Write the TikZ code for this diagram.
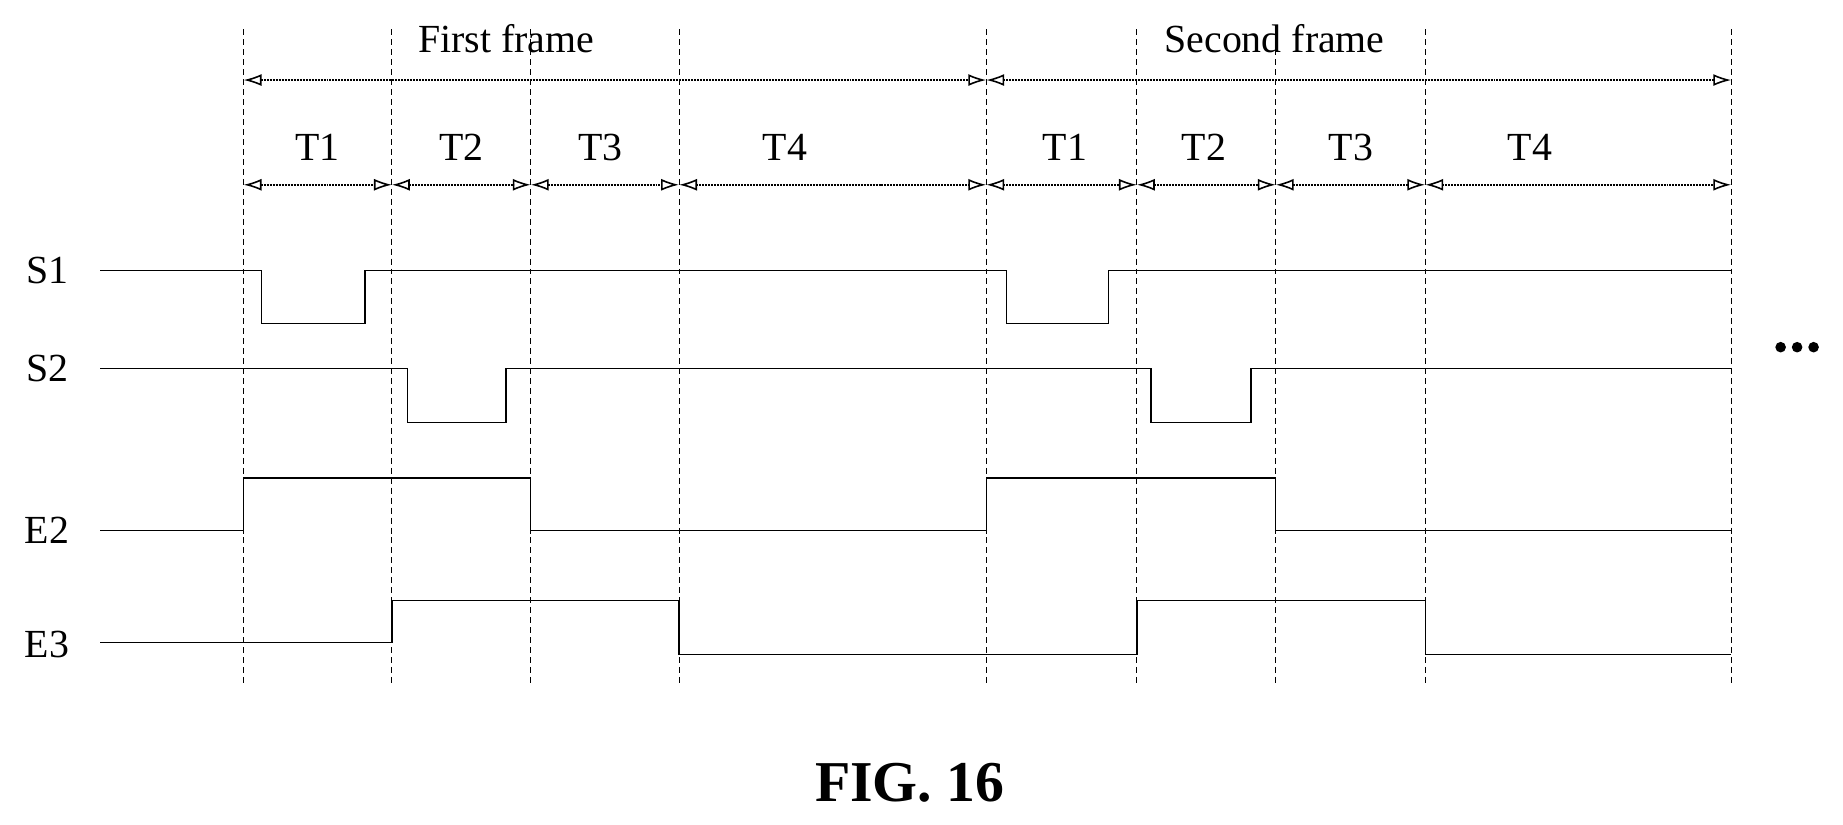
\documentclass[tikz,border=0pt]{standalone}
\usepackage{fontspec}
\setmainfont{Liberation Serif}
\usetikzlibrary{arrows.meta}
\begin{document}
\begin{tikzpicture}[x=1.1814bp,y=-1.1814bp,
  sig/.style={line width=1.4bp},
  grid/.style={line width=0.9bp,dash pattern=on 6bp off 4bp},
  dim/.style={line width=1.8bp,dash pattern=on 2bp off 1bp,{Latex[open,length=18bp,width=12bp,line width=1.6bp]}-{Latex[open,length=18bp,width=12bp,line width=1.6bp]}},
  lab/.style={font=\fontsize{40bp}{44bp}\selectfont,inner sep=0pt}]
\useasboundingbox (0,0) rectangle (1566,701);
\foreach \x [count=\i] in {207,333,451,577,838,966,1084,1211,1471}
  {\coordinate (v\i) at (\x,157); \draw[grid] (\x,25) -- (\x,580);}
\coordinate (f1) at (207,68); \coordinate (f2) at (838,68); \coordinate (f3) at (1471,68);
\draw[dim] (f1) -- (f2); \draw[dim] (f2) -- (f3);
\node[lab] (ff) at (430,33) {First frame};
\node[lab] (sf) at (1083,33) {Second frame};
\foreach \a/\b in {1/2,2/3,3/4,4/5,5/6,6/7,7/8,8/9} \draw[dim] (v\a) -- (v\b);
\foreach \x/\t [count=\i] in {270/T1,392/T2,510/T3,667/T4,905/T1,1023/T2,1148/T3,1300/T4}
  \node[lab] (t\i) at (\x,125) {\t};
\node[lab] (s1) at (40,230) {S1};
\node[lab] (s2) at (40,313) {S2};
\node[lab] (e2) at (40,451) {E2};
\node[lab] (e3) at (40,548) {E3};
\draw[sig] (85,230) -- (222,230) -- (222,275) -- (310,275) -- (310,230) -- (855,230) -- (855,275) -- (942,275) -- (942,230) -- (1471,230);
\draw[sig] (85,313) -- (346,313) -- (346,359) -- (430,359) -- (430,313) -- (978,313) -- (978,359) -- (1063,359) -- (1063,313) -- (1471,313);
\draw[sig] (85,451) -- (207,451) -- (207,406) -- (451,406) -- (451,451) -- (838,451) -- (838,406) -- (1084,406) -- (1084,451) -- (1471,451);
\draw[sig] (85,546) -- (333,546) -- (333,510) -- (577,510) -- (577,556) -- (966,556) -- (966,510) -- (1211,510) -- (1211,556) -- (1471,556);
\foreach \dx [count=\i] in {-14,0,14} \fill (1527+\dx,295) circle (4.5) coordinate (d\i);
\node[font=\fontsize{58bp}{62bp}\bfseries\selectfont,inner sep=0pt] (fig) at (773,665) {FIG. 16};
\end{tikzpicture}
\end{document}
